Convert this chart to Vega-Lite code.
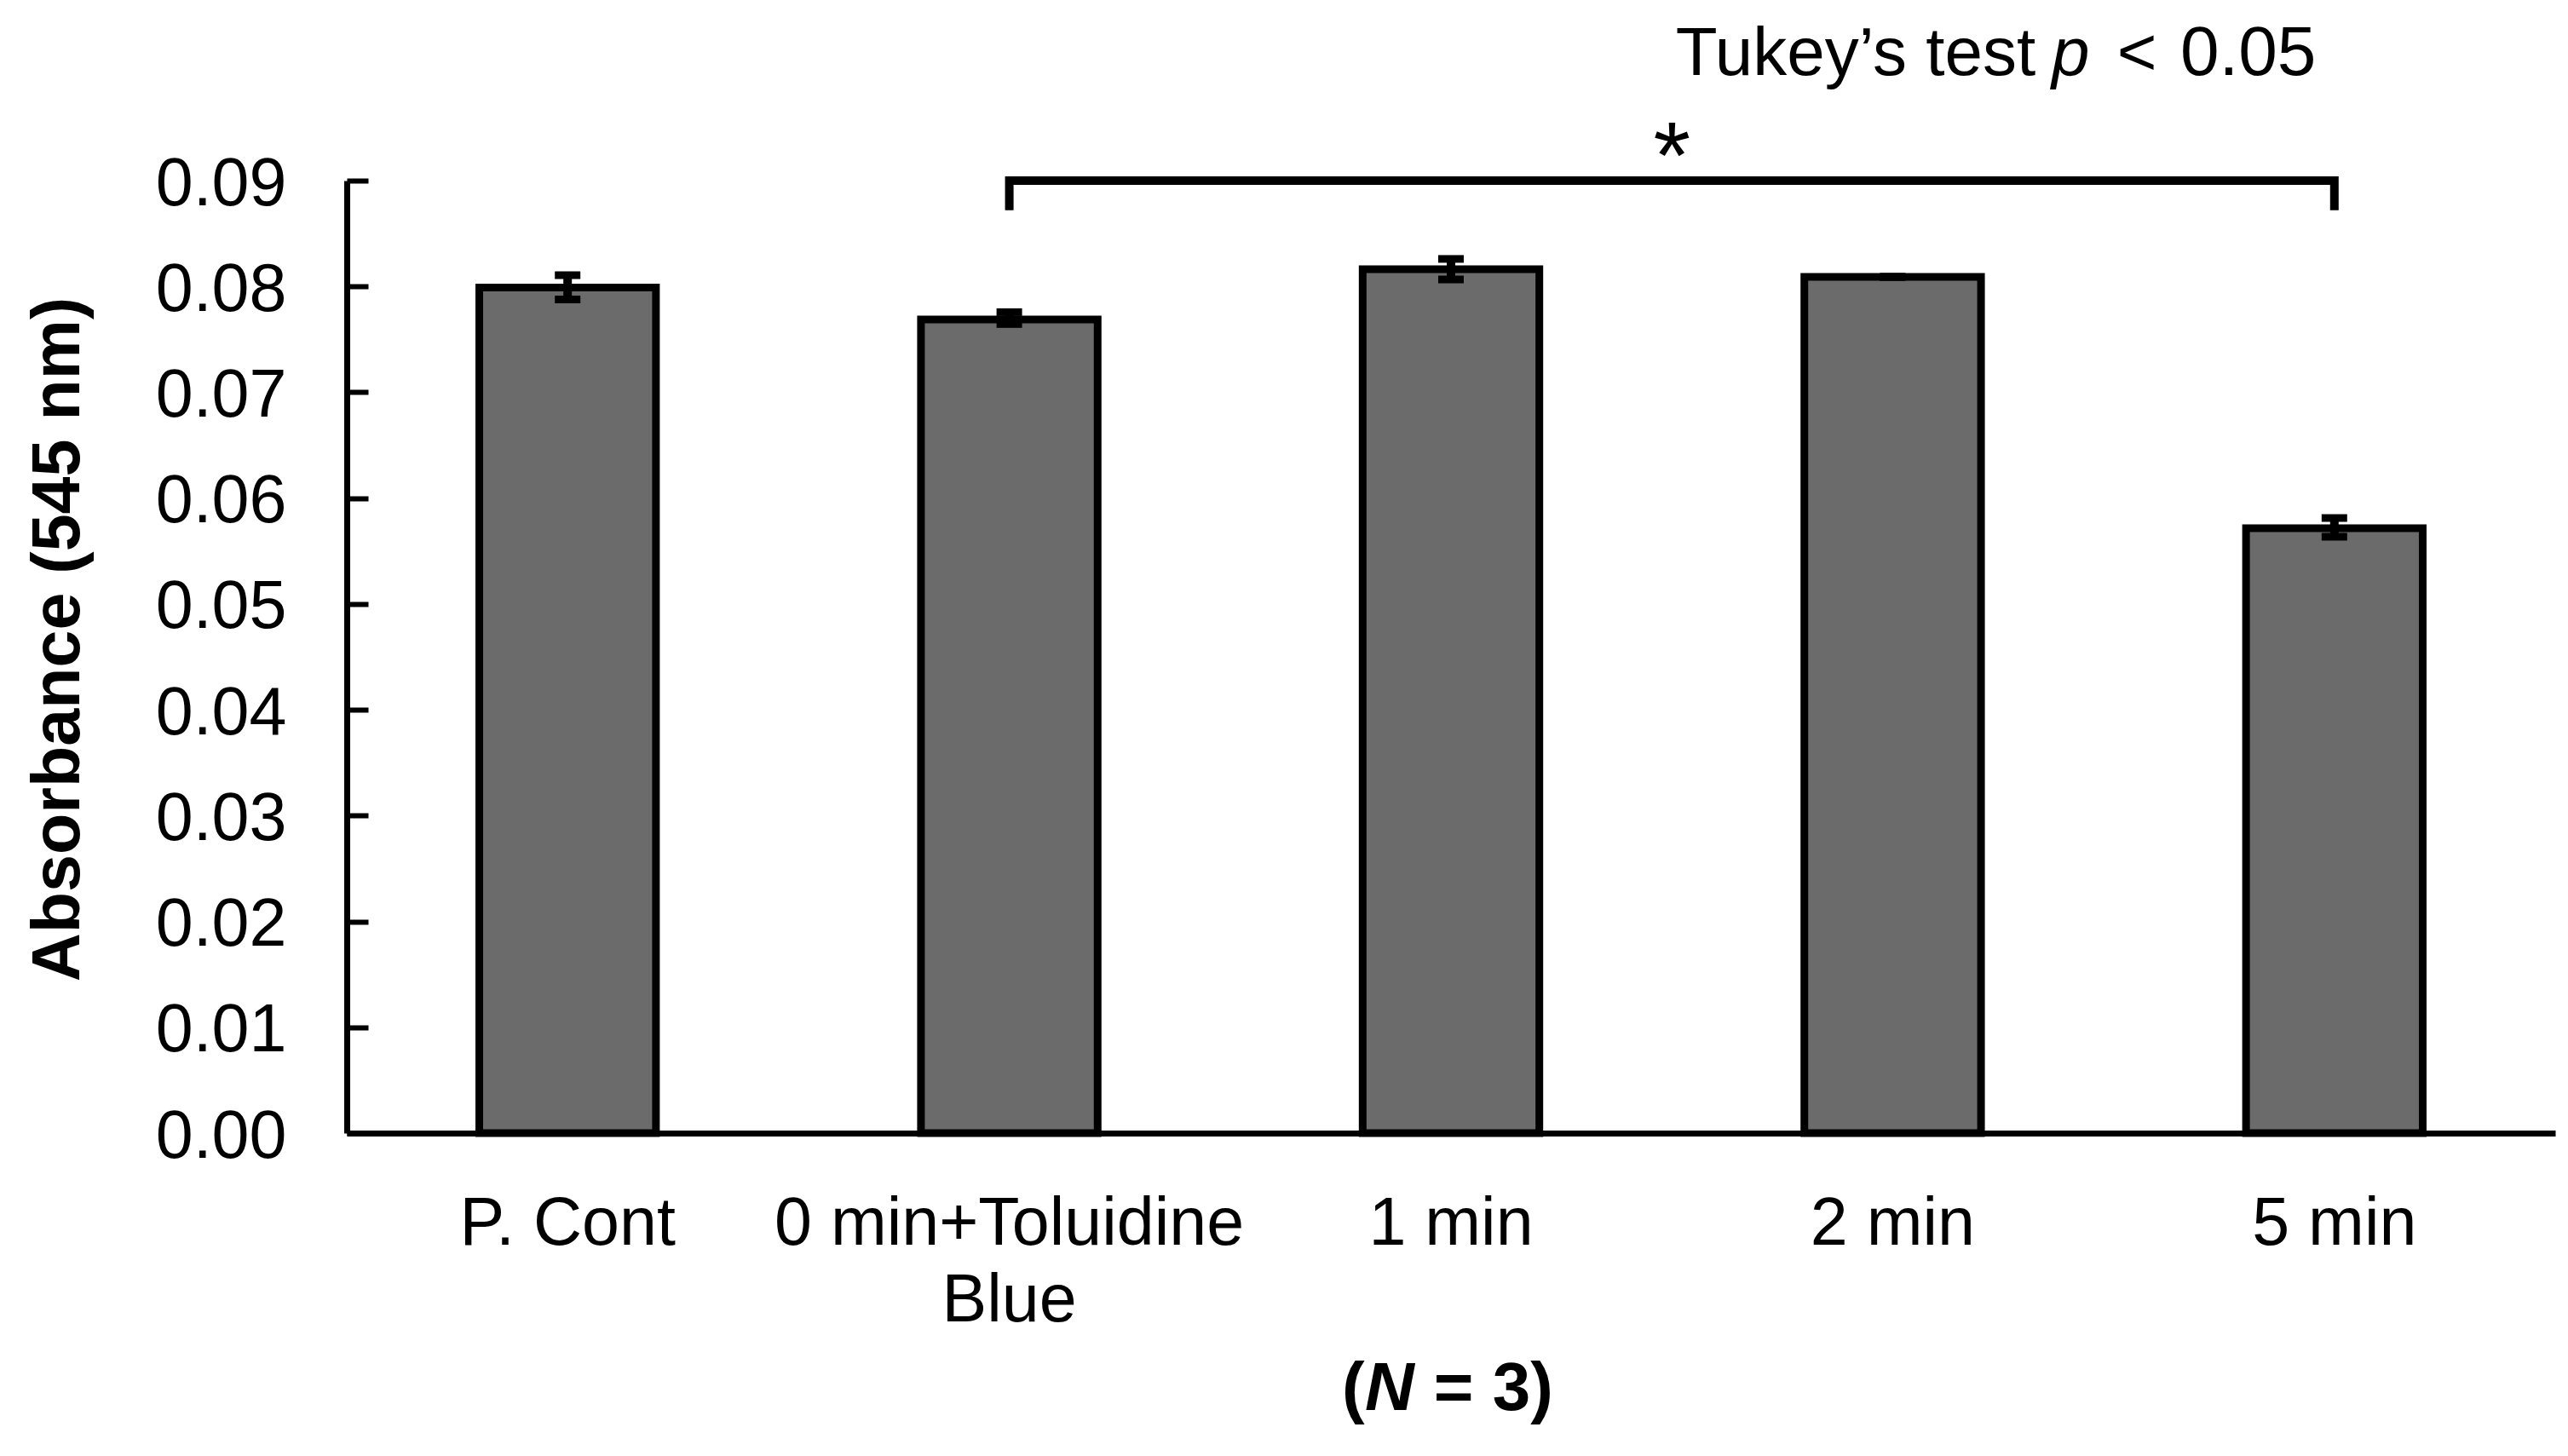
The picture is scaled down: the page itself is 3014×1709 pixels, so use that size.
{
  "$schema": "https://vega.github.io/schema/vega-lite/v6.json",
  "width": 2592,
  "height": 1118,
  "autosize": {"type": "none"},
  "padding": {"left": 407, "top": 212, "right": 15, "bottom": 379},
  "background": "white",
  "config": {"view": {"stroke": null}, "font": "Liberation Sans", "axis": {"grid": false}},
  "datasets": {
    "bars": [
      {"cat": "P. Cont", "val": 0.0799, "lo": 0.07877, "hi": 0.08107},
      {"cat": "0 min+Toluidine Blue", "val": 0.07688, "lo": 0.07645, "hi": 0.07757},
      {"cat": "1 min", "val": 0.08163, "lo": 0.08066, "hi": 0.0826},
      {"cat": "2 min", "val": 0.0809, "lo": 0.0809, "hi": 0.0809},
      {"cat": "5 min", "val": 0.05716, "lo": 0.05635, "hi": 0.05812}
    ],
    "bracket": [
      {"ax": 1.5, "ay": 0.0872, "o": 0},
      {"ax": 1.5, "ay": 0.09, "o": 1},
      {"ax": 4.5, "ay": 0.09, "o": 2},
      {"ax": 4.5, "ay": 0.0872, "o": 3}
    ],
    "notes": [
      {"kind": "n", "txt": "Tukey’s test", "ax": 3.009, "ay": 0.1},
      {"kind": "i", "txt": "p", "ax": 3.86, "ay": 0.1},
      {"kind": "n", "txt": "<", "ax": 4.008, "ay": 0.1},
      {"kind": "w", "txt": "0.05", "ax": 4.151, "ay": 0.1},
      {"kind": "star", "txt": "*", "ax": 3.0, "ay": 0.08928},
      {"kind": "b", "txt": "(", "ax": 2.253, "ay": -0.0262},
      {"kind": "bi", "txt": "N", "ax": 2.305, "ay": -0.0262},
      {"kind": "b", "txt": "= 3)", "ax": 2.461, "ay": -0.0262}
    ]
  },
  "layer": [
    {
      "data": {"name": "bars"},
      "encoding": {
        "x": {
          "field": "cat", "type": "nominal", "sort": null,
          "scale": {"paddingInner": 0.6, "paddingOuter": 0.3},
          "axis": {
            "title": null, "labelFont": "Liberation Sans", "labelFontSize": 79, "labelColor": "black",
            "labelPadding": 68, "ticks": false, "domainColor": "black", "domainWidth": 7,
            "labelAngle": 0, "labelLineHeight": 90, "labelBaseline": "top", "labelLimit": 0,
            "labelOverlap": false, "labelBound": false,
            "labelExpr": "datum.value == '0 min+Toluidine Blue' ? ['0 min+Toluidine', 'Blue'] : datum.label"
          }
        }
      },
      "layer": [
        {
          "mark": {"type": "bar", "fill": "#6b6b6b", "stroke": "black", "strokeWidth": 9},
          "encoding": {
            "y": {
              "field": "val", "type": "quantitative",
              "scale": {"domain": [0, 0.09], "nice": false},
              "axis": {
                "values": [0, 0.01, 0.02, 0.03, 0.04, 0.05, 0.06, 0.07, 0.08, 0.09],
                "format": ".2f",
                "title": "Absorbance (545 nm)", "titleFont": "Liberation Sans", "titleFontSize": 79,
                "titleFontWeight": "bold", "titleColor": "black", "titleX": -315, "titleY": 538,
                "titleAngle": 270, "titleAlign": "center", "titleBaseline": "alphabetic",
                "labelFont": "Liberation Sans", "labelFontSize": 79, "labelColor": "black",
                "labelPadding": 96, "labelOffset": 4, "tickSize": -25, "tickWidth": 6, "tickColor": "black",
                "domainColor": "black", "domainWidth": 7, "grid": false
              }
            }
          }
        },
        {
          "mark": {"type": "rule", "strokeWidth": 10, "color": "black"},
          "encoding": {
            "y": {"field": "lo", "type": "quantitative", "scale": {"domain": [0, 0.09], "nice": false}},
            "y2": {"field": "hi"}
          }
        },
        {
          "mark": {"type": "tick", "size": 30, "thickness": 9, "color": "black", "opacity": 1},
          "encoding": {
            "y": {"field": "lo", "type": "quantitative", "scale": {"domain": [0, 0.09], "nice": false}}
          }
        },
        {
          "mark": {"type": "tick", "size": 30, "thickness": 9, "color": "black", "opacity": 1},
          "encoding": {
            "y": {"field": "hi", "type": "quantitative", "scale": {"domain": [0, 0.09], "nice": false}}
          }
        }
      ]
    },
    {
      "layer": [
        {
          "data": {"name": "bracket"},
          "mark": {"type": "line", "stroke": "black", "strokeWidth": 10, "strokeCap": "butt", "strokeJoin": "miter"},
          "encoding": {
            "x": {"field": "ax", "type": "quantitative", "scale": {"domain": [0, 5], "nice": false, "zero": false}, "axis": null},
            "y": {"field": "ay", "type": "quantitative", "scale": {"domain": [0, 0.09], "nice": false}},
            "order": {"field": "o"}
          }
        },
        {
          "data": {"name": "notes"},
          "transform": [{"filter": "datum.kind == 'n'"}],
          "mark": {"type": "text", "align": "left", "baseline": "alphabetic", "fontSize": 80, "font": "Liberation Sans", "color": "black"},
          "encoding": {
            "x": {"field": "ax", "type": "quantitative", "scale": {"domain": [0, 5], "nice": false, "zero": false}, "axis": null},
            "y": {"field": "ay", "type": "quantitative", "scale": {"domain": [0, 0.09], "nice": false}},
            "text": {"field": "txt"}
          }
        },
        {
          "data": {"name": "notes"},
          "transform": [{"filter": "datum.kind == 'w'"}],
          "mark": {"type": "text", "align": "left", "baseline": "alphabetic", "fontSize": 82, "font": "Liberation Sans", "color": "black"},
          "encoding": {
            "x": {"field": "ax", "type": "quantitative", "scale": {"domain": [0, 5], "nice": false, "zero": false}, "axis": null},
            "y": {"field": "ay", "type": "quantitative", "scale": {"domain": [0, 0.09], "nice": false}},
            "text": {"field": "txt"}
          }
        },
        {
          "data": {"name": "notes"},
          "transform": [{"filter": "datum.kind == 'i'"}],
          "mark": {"type": "text", "align": "left", "baseline": "alphabetic", "fontSize": 80, "fontStyle": "italic", "font": "Liberation Sans", "color": "black"},
          "encoding": {
            "x": {"field": "ax", "type": "quantitative", "scale": {"domain": [0, 5], "nice": false, "zero": false}, "axis": null},
            "y": {"field": "ay", "type": "quantitative", "scale": {"domain": [0, 0.09], "nice": false}},
            "text": {"field": "txt"}
          }
        },
        {
          "data": {"name": "notes"},
          "transform": [{"filter": "datum.kind == 'star'"}],
          "mark": {"type": "text", "align": "center", "baseline": "alphabetic", "fontSize": 112, "font": "Liberation Sans", "color": "black"},
          "encoding": {
            "x": {"field": "ax", "type": "quantitative", "scale": {"domain": [0, 5], "nice": false, "zero": false}, "axis": null},
            "y": {"field": "ay", "type": "quantitative", "scale": {"domain": [0, 0.09], "nice": false}},
            "text": {"field": "txt"}
          }
        },
        {
          "data": {"name": "notes"},
          "transform": [{"filter": "datum.kind == 'b'"}],
          "mark": {"type": "text", "align": "left", "baseline": "alphabetic", "fontSize": 80, "fontWeight": "bold", "font": "Liberation Sans", "color": "black"},
          "encoding": {
            "x": {"field": "ax", "type": "quantitative", "scale": {"domain": [0, 5], "nice": false, "zero": false}, "axis": null},
            "y": {"field": "ay", "type": "quantitative", "scale": {"domain": [0, 0.09], "nice": false}},
            "text": {"field": "txt"}
          }
        },
        {
          "data": {"name": "notes"},
          "transform": [{"filter": "datum.kind == 'bi'"}],
          "mark": {"type": "text", "align": "left", "baseline": "alphabetic", "fontSize": 80, "fontWeight": "bold", "fontStyle": "italic", "font": "Liberation Sans", "color": "black"},
          "encoding": {
            "x": {"field": "ax", "type": "quantitative", "scale": {"domain": [0, 5], "nice": false, "zero": false}, "axis": null},
            "y": {"field": "ay", "type": "quantitative", "scale": {"domain": [0, 0.09], "nice": false}},
            "text": {"field": "txt"}
          }
        }
      ]
    }
  ],
  "resolve": {"scale": {"x": "independent"}}
}
